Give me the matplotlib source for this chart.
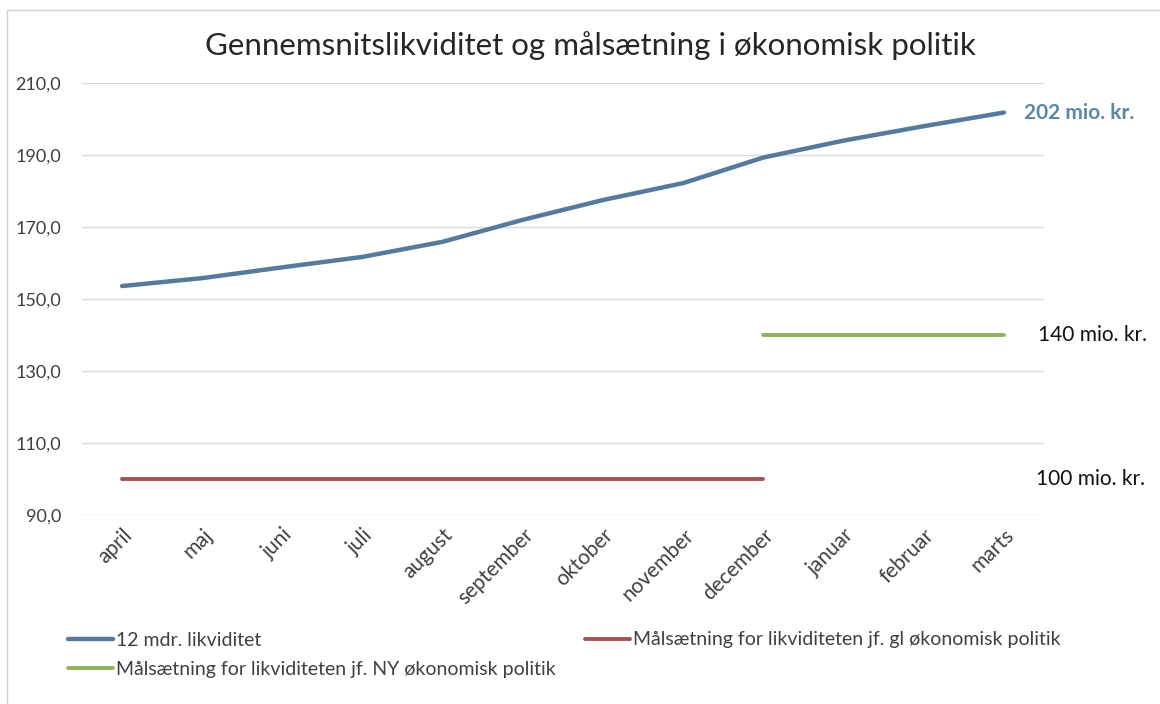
import numpy as np
import matplotlib.pyplot as plt
from matplotlib.patches import Rectangle
from matplotlib.ticker import FuncFormatter

months = ["april", "maj", "juni", "juli", "august", "september", "oktober",
          "november", "december", "januar", "februar", "marts"]
likviditet = [153.6, 155.8, 158.8, 161.7, 165.9, 172.0, 177.5, 182.2, 189.3,
              194.0, 198.0, 201.8]
maal_gl = [100, 100, 100, 100, 100, 100, 100, 100, 100, np.nan, np.nan, np.nan]
maal_ny = [np.nan] * 8 + [140, 140, 140, 140]
yticks = [90, 110, 130, 150, 170, 190, 210]

BLUE = "#557a9b"
RED = "#a5534e"
GREEN = "#8db35b"
TXT = "#404040"
FONT = "Lato"

plt.rcParams["font.family"] = [FONT, "DejaVu Sans"]

W, H = 1160, 704
fig = plt.figure(figsize=(W / 100, H / 100), dpi=100)
fig.patches.append(Rectangle((7 / W, -0.01), 1.02, 1 - 10 / H + 0.01,
                             transform=fig.transFigure, fill=False,
                             edgecolor="#d0d0d0", linewidth=1))
ax = fig.add_axes([82 / W, 1 - 515 / H, (1044 - 82) / W, (515 - 83) / H])

x = np.arange(len(months))
l1, = ax.plot(x, likviditet, color=BLUE, lw=3.2, solid_capstyle="round",
              solid_joinstyle="round", label="12 mdr. likviditet")
l2, = ax.plot(x, maal_gl, color=RED, lw=2.8, solid_capstyle="round",
              label="Målsætning for likviditeten jf. gl økonomisk politik")
l3, = ax.plot(x, maal_ny, color=GREEN, lw=2.8, solid_capstyle="round",
              label="Målsætning for likviditeten jf. NY økonomisk politik")

ax.set_xlim(-0.5, len(months) - 0.5)
ax.set_ylim(90, 210)
ax.set_yticks(yticks)
ax.yaxis.set_major_formatter(FuncFormatter(lambda v, p: f"{v:.1f}".replace(".", ",")))
ax.grid(axis="y", color="#d9d9d9", lw=1)
ax.set_axisbelow(True)
for s in ax.spines.values():
    s.set_visible(False)
ax.tick_params(axis="both", length=0, colors=TXT)
ax.tick_params(axis="y", labelsize=13, pad=15)
ax.set_xticks(x)
ax.set_xticklabels(months, rotation=45, ha="right", rotation_mode="anchor",
                   fontsize=15)
ax.tick_params(axis="x", pad=7)

fig.text(590 / W, 1 - 46 / H, "Gennemsnitslikviditet og målsætning i økonomisk politik",
         ha="center", va="center", fontsize=22.5, color="#262626")

ytr = ax.get_yaxis_transform()
ax.text(0.979, likviditet[-1], "202 mio. kr.", transform=ytr,
        color="#5b87a8", fontsize=15, fontweight="bold", va="center", ha="left")
ax.text(0.994, 140, "140 mio. kr.", transform=ytr,
        color="#111111", fontsize=15, va="center", ha="left")
ax.text(0.992, 100, "100 mio. kr.", transform=ytr,
        color="#111111", fontsize=15, va="center", ha="left")

leg_kw = dict(frameon=False, fontsize=14, handlelength=2.3, handletextpad=0.15,
              borderpad=0, borderaxespad=0, labelspacing=0.6)
leg_a = fig.legend(handles=[l1, l3], loc="center left",
                   bbox_to_anchor=(68 / W, 1 - 655 / H), **leg_kw)
leg_b = fig.legend(handles=[l2], loc="center left",
                   bbox_to_anchor=(585 / W, 1 - 640 / H), **leg_kw)
for leg in (leg_a, leg_b):
    for t in leg.get_texts():
        t.set_color(TXT)

fig.savefig("out.png", dpi=100)
